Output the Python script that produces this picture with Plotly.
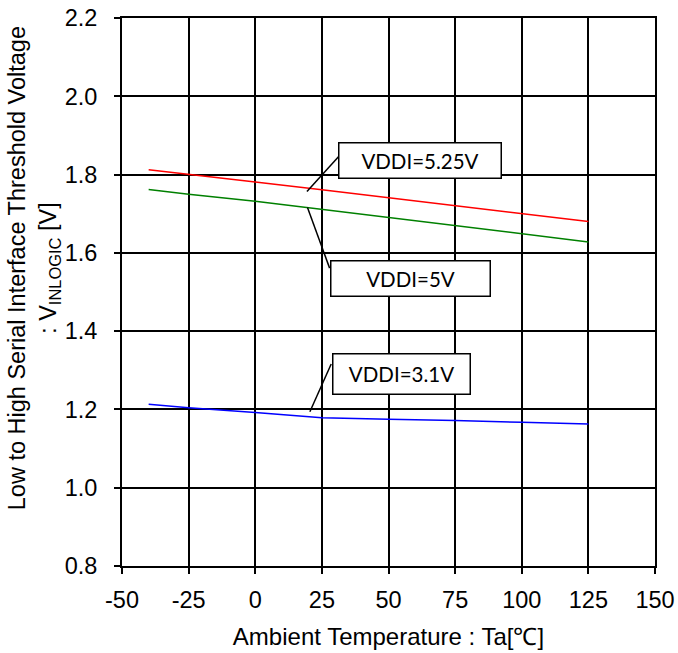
import plotly.graph_objects as go

temps = [-40, -25, 0, 25, 50, 75, 100, 125]
v525 = [1.812, 1.801, 1.781, 1.761, 1.741, 1.721, 1.700, 1.680]
v500 = [1.762, 1.750, 1.732, 1.711, 1.690, 1.670, 1.649, 1.628]
v310 = [1.213, 1.204, 1.192, 1.179, 1.175, 1.172, 1.167, 1.163]

series_names = ["VDDI=5.25V", "VDDI=5V", "VDDI=3.1V"]
series_colors = ["#ff0000", "#008000", "#0000ff"]

x_ticks = [-50, -25, 0, 25, 50, 75, 100, 125, 150]
y_ticks = [0.8, 1.0, 1.2, 1.4, 1.6, 1.8, 2.0, 2.2]

fig = go.Figure()
for name, vals, col in zip(series_names, [v525, v500, v310], series_colors):
    fig.add_trace(go.Scatter(x=temps, y=vals, mode="lines", name=name,
                             line=dict(color=col, width=1.5), showlegend=False))

FONT = "Liberation Sans, Arial, sans-serif"
BOXFONT = "Lato, Carlito, Calibri, sans-serif"

# label boxes: (text, center x, center y, width, height, leader start (x,y), leader end (x,y))
labels = [
    ("VDDI=5.25V", 62.0, 1.836, 161, 34, (19.4, 1.757), (31.4, 1.847)),
    ("VDDI=5V", 58.1, 1.535, 158, 34, (19.6, 1.716), (27.9, 1.561)),
    ("VDDI=3.1V", 54.95, 1.2915, 136, 39, (20.5, 1.194), (28.5, 1.316)),
]
for text, cx, cy, w, h, p0, p1 in labels:
    fig.add_shape(type="line", x0=p0[0], y0=p0[1], x1=p1[0], y1=p1[1],
                  xref="x", yref="y", line=dict(color="black", width=1.5))
    fig.add_annotation(x=cx, y=cy, xref="x", yref="y", text=text, showarrow=False,
                       width=w, height=h, borderpad=0, borderwidth=1.5,
                       bordercolor="black", bgcolor="white", align="center",
                       valign="middle",
                       font=dict(family=BOXFONT, size=20.5, color="black"))

fig.add_annotation(
    text="Low to High Serial Interface Threshold Voltage<br>: V<sub>INLOGIC</sub> [V]",
    xref="paper", yref="paper", x=-0.1645, y=0.544, showarrow=False,
    textangle=-90, xanchor="center", yanchor="middle", align="center",
    font=dict(family=FONT, size=23.5, color="black"))

axis_common = dict(showline=True, linecolor="black", linewidth=2, mirror=True,
                   showgrid=True, gridcolor="black", gridwidth=1.5,
                   ticks="outside", ticklen=6, tickcolor="black", tickwidth=1.5,
                   zeroline=False, automargin=False,
                   tickfont=dict(family=FONT, size=23.5, color="black"))

fig.update_xaxes(range=[-50, 150], tickvals=x_ticks, ticktext=[str(v) for v in x_ticks],
                 title=dict(text="Ambient Temperature : Ta[℃]", standoff=16,
                            font=dict(family=FONT, size=24, color="black")),
                 ticklabelstandoff=6, **axis_common)
fig.update_yaxes(range=[0.8, 2.2], tickvals=y_ticks, ticktext=[f"{v:.1f}" for v in y_ticks],
                 ticklabelstandoff=12, **axis_common)

fig.update_layout(width=678, height=653, margin=dict(l=122, r=23, t=18, b=87, autoexpand=False),
                  plot_bgcolor="white", paper_bgcolor="white",
                  font=dict(family=FONT, color="black"))

fig.write_html("out.html", config={"displayModeBar": False},
               post_script="document.body.style.margin='0px';")
